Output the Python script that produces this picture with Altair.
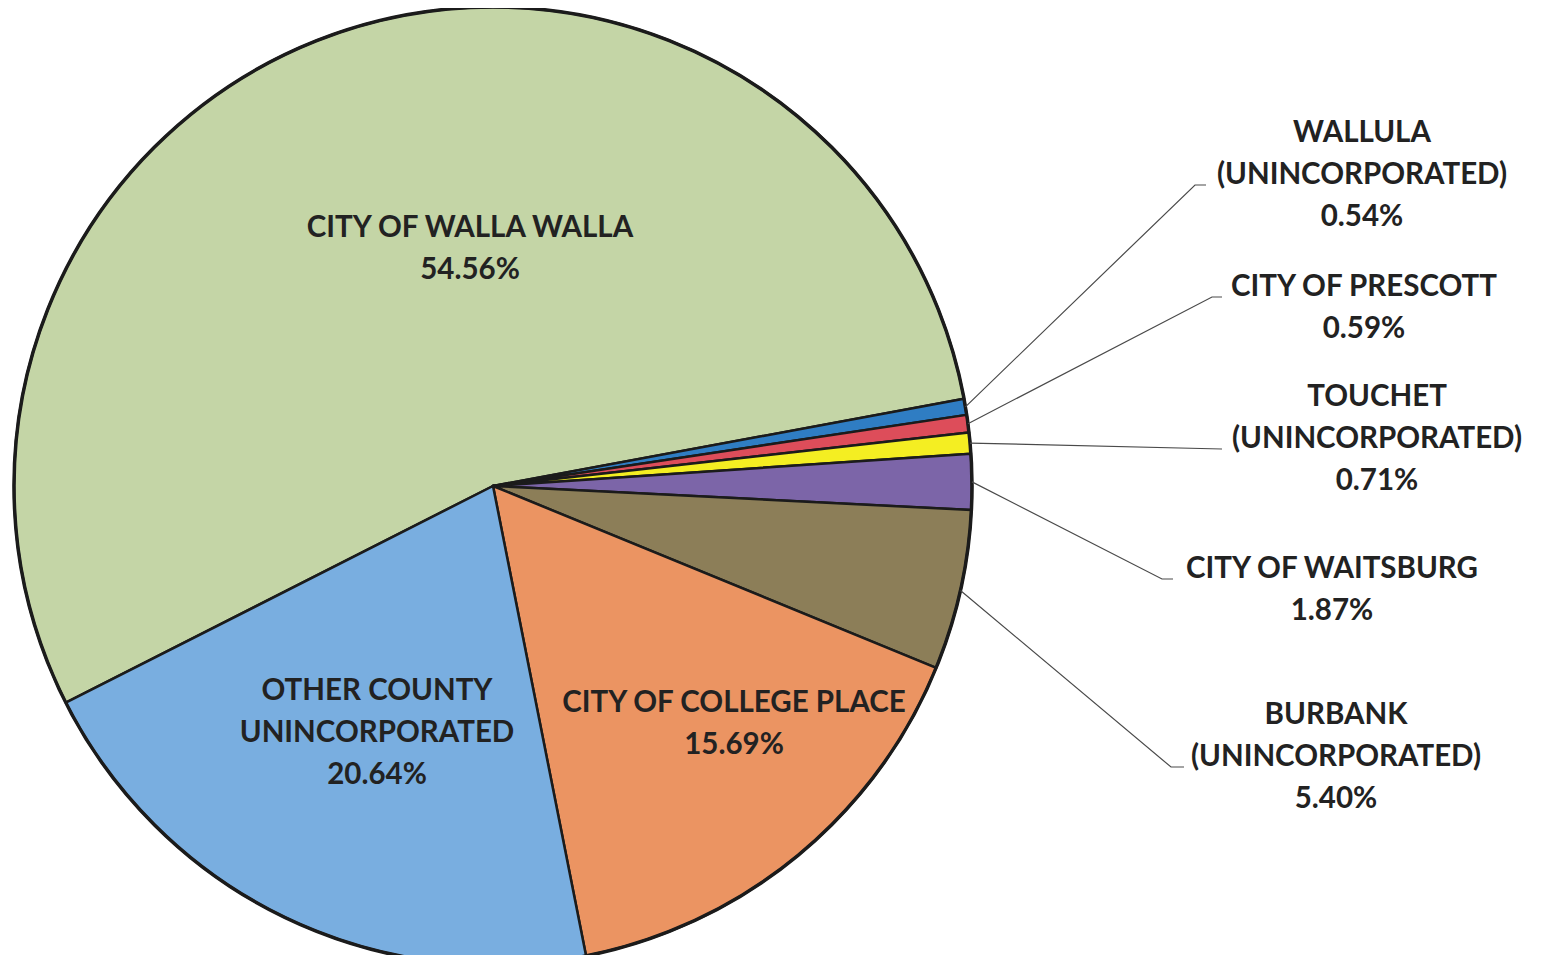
import math
import altair as alt
import pandas as pd

# ---- data ----
CATEGORIES = [
    "CITY OF WALLA WALLA",
    "WALLULA (UNINCORPORATED)",
    "CITY OF PRESCOTT",
    "TOUCHET (UNINCORPORATED)",
    "CITY OF WAITSBURG",
    "BURBANK (UNINCORPORATED)",
    "CITY OF COLLEGE PLACE",
    "OTHER COUNTY UNINCORPORATED",
]
VALUES = [54.56, 0.54, 0.59, 0.71, 1.87, 5.40, 15.69, 20.64]
NAME_LINES = [
    ["CITY OF WALLA WALLA"],
    ["WALLULA", "(UNINCORPORATED)"],
    ["CITY OF PRESCOTT"],
    ["TOUCHET", "(UNINCORPORATED)"],
    ["CITY OF WAITSBURG"],
    ["BURBANK", "(UNINCORPORATED)"],
    ["CITY OF COLLEGE PLACE"],
    ["OTHER COUNTY", "UNINCORPORATED"],
]
COLORS = ["#C4D5A6", "#2F7DC3", "#DD4D5A", "#F4EE22", "#7C65A8",
          "#8C7E58", "#EB9462", "#79AEE0"]

# ---- layout (pixels in chart space) ----
W, H = 1527, 947
CX, CY, R = 485, 478, 479
START_DEG = 243.1
LINE_H = 42
FONT = "Lato"
FSIZE = 29.5
# label block center x, first line y
LABEL_POS = {
    "CITY OF WALLA WALLA": (462, 220),
    "WALLULA (UNINCORPORATED)": (1354, 125),
    "CITY OF PRESCOTT": (1356, 279),
    "TOUCHET (UNINCORPORATED)": (1369, 389),
    "CITY OF WAITSBURG": (1324, 561),
    "BURBANK (UNINCORPORATED)": (1328, 707),
    "CITY OF COLLEGE PLACE": (726, 695),
    "OTHER COUNTY UNINCORPORATED": (369, 683),
}
# leader line elbow and end points
LEADERS = {
    "WALLULA (UNINCORPORATED)": [(1187, 177), (1198, 177)],
    "CITY OF PRESCOTT": [(1204, 289), (1214, 289)],
    "TOUCHET (UNINCORPORATED)": [(1214, 441), (1214, 441)],
    "CITY OF WAITSBURG": [(1154, 571), (1165, 571)],
    "BURBANK (UNINCORPORATED)": [(1163, 759), (1176, 759)],
}

pie_df = pd.DataFrame({
    "category": CATEGORIES,
    "value": VALUES,
    "order": list(range(len(CATEGORIES))),
})

start = math.radians(START_DEG)
arcs = alt.Chart(pie_df).mark_arc(
    radius=R, stroke="#1b1b1b", strokeWidth=2.5, strokeJoin="round"
).encode(
    theta=alt.Theta("value:Q", stack=True,
                    scale=alt.Scale(range=[start, start + 2 * math.pi])),
    color=alt.Color("category:N",
                    scale=alt.Scale(domain=CATEGORIES, range=COLORS),
                    legend=None),
    order=alt.Order("order:Q"),
    x=alt.value(CX),
    y=alt.value(CY),
)

# outer ring border (full circle, own theta scale)
ring = alt.Chart(pd.DataFrame({"v": [1.0]})).mark_arc(
    radius=R, fill=None, fillOpacity=0, stroke="#1b1b1b", strokeWidth=3.5
).encode(
    theta=alt.Theta("v:Q", scale=alt.Scale(domain=[0, 1], range=[0, 2 * math.pi])),
    x=alt.value(CX), y=alt.value(CY),
)

# leader lines: start point from slice mid-angle on the rim
total = sum(VALUES)
cum = 0.0
rows = []
for cat, v in zip(CATEGORIES, VALUES):
    mid = START_DEG + (cum + v / 2) / total * 360.0
    cum += v
    if cat in LEADERS:
        a = math.radians(mid)
        pts = [(CX + R * math.sin(a), CY - R * math.cos(a))] + LEADERS[cat]
        for i, (px, py) in enumerate(pts):
            rows.append({"cat": cat, "i": i, "px": px, "py": py})
lead_df = pd.DataFrame(rows)
leaders = alt.Chart(lead_df).mark_line(color="#4a4a4a", strokeWidth=1.2).encode(
    x=alt.X("px:Q", scale=None, axis=None),
    y=alt.Y("py:Q", scale=None, axis=None),
    detail="cat:N",
    order="i:Q",
)

# labels
trows = []
for cat, v, lines in zip(CATEGORIES, VALUES, NAME_LINES):
    lx, ly = LABEL_POS[cat]
    for i, t in enumerate(lines + [f"{v:.2f}%"]):
        trows.append({"t": t, "px": lx, "py": ly + i * LINE_H})
text_df = pd.DataFrame(trows)
labels = alt.Chart(text_df).mark_text(
    font=FONT, fontSize=FSIZE, fontWeight="bold", color="#222222",
    align="center", baseline="middle"
).encode(
    x=alt.X("px:Q", scale=None, axis=None),
    y=alt.Y("py:Q", scale=None, axis=None),
    text="t:N",
)

chart = alt.layer(arcs, ring, leaders, labels).resolve_scale(
    theta="independent"
).properties(
    width=W, height=H, padding=0, autosize=alt.AutoSizeParams(type="none"),
    background="white",
).configure_view(stroke=None)

chart.save("out.html", embed_options={"renderer": "svg", "actions": False})
